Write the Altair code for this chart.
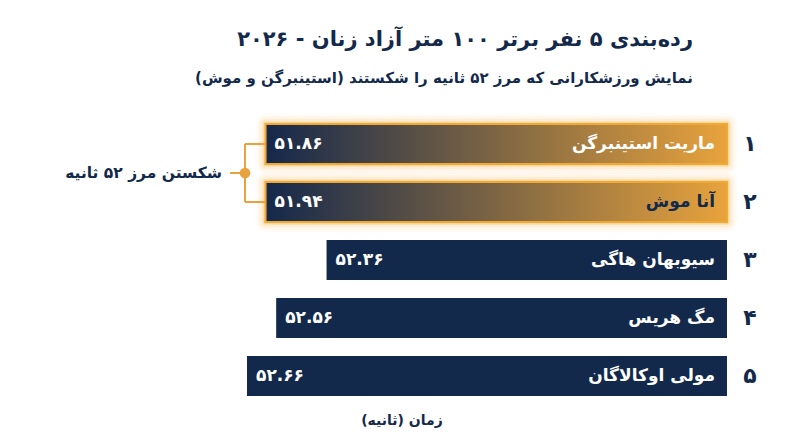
import altair as alt
import pandas as pd

# ---- data ----
ranks = [1, 2, 3, 4, 5]
names = ["ماریت استینبرگن", "آنا موش", "سیوبهان هاگی", "مگ هریس", "مولی اوکالاگان"]
times = [51.86, 51.94, 52.36, 52.56, 52.66]
# visual bar extents as drawn in the reference (arbitrary units)
bar_extent = [1.74, 1.74, 1.51, 1.70, 1.81]
highlight = [True, True, False, False, False]

title_text = "رده‌بندی ۵ نفر برتر ۱۰۰ متر آزاد زنان - ۲۰۲۶"
subtitle_text = "نمایش ورزشکارانی که مرز ۵۲ ثانیه را شکستند (استینبرگن و موش)"
annotation_text = "شکستن مرز ۵۲ ثانیه"
x_title_text = "زمان (ثانیه)"

FA = str.maketrans("0123456789", "۰۱۲۳۴۵۶۷۸۹")
RLM = "\u200f"


def rtl(s):
    return RLM + s + RLM


df = pd.DataFrame({
    "rank": ranks,
    "rank_fa": [str(r).translate(FA) for r in ranks],
    "name": [rtl(n) for n in names],
    "time_fa": [f"{t:.2f}".translate(FA) for t in times],
    "extent": bar_extent,
    "highlight": highlight,
})

NAVY = "#13294b"
GOLD = "#e8a33c"
GLOW = "#f7b548"
FONT = "DejaVu Sans"

W, H = 784, 431
xs = alt.Scale(domain=[0, max(bar_extent)], range=[719, 239])
ys = alt.Scale(range=[116, 388], paddingInner=0.31, paddingOuter=0)

base = alt.Chart(df).encode(
    y=alt.Y("rank:O", scale=ys, axis=None),
)

bar_enc = dict(
    x=alt.X("extent:Q", scale=xs, axis=None),
    x2=alt.datum(0),
)

hl = base.transform_filter("datum.highlight")
plain = base.transform_filter("!datum.highlight")

glow_layers = [
    hl.mark_bar(fillOpacity=0, stroke=GLOW, strokeWidth=w, strokeOpacity=o, strokeJoin="round").encode(**bar_enc)
    for w, o in [(20, 0.05), (15, 0.08), (10, 0.12), (6, 0.2), (3.5, 0.3)]
]

gradient = alt.Gradient(
    gradient="linear",
    stops=[alt.GradientStop(color="#14284b", offset=0),
           alt.GradientStop(color=GOLD, offset=1)],
    x1=0, x2=1, y1=0, y2=0,
)

hl_bars = hl.mark_bar(fill=gradient, stroke="#f0a935", strokeWidth=2).encode(**bar_enc)
plain_bars = plain.mark_bar(color=NAVY).encode(**bar_enc)

value_labels = base.mark_text(
    font=FONT, fontWeight="bold", fontSize=17, align="left", baseline="middle", dx=9, color="white"
).encode(x=alt.X("extent:Q", scale=xs, axis=None), text="time_fa:N")

name_labels = base.mark_text(
    font=FONT, fontWeight="bold", fontSize=17, align="right", baseline="middle"
).encode(
    x=alt.value(707),
    text="name:N",
    color=alt.condition("datum.rank == 2", alt.value(NAVY), alt.value("white")),
)

rank_labels = base.mark_text(
    font=FONT, fontWeight="bold", fontSize=22, align="center", baseline="middle", color=NAVY
).encode(x=alt.value(742), text="rank_fa:N")

# bracket annotation for the sub-52 swimmers
bracket_ticks = hl.mark_rule(color=GOLD, strokeWidth=2).encode(
    x=alt.X("extent:Q", scale=xs, axis=None), x2=alt.value(237)
)
one = pd.DataFrame({"a": [0]})
bracket_vert = alt.Chart(one).mark_rule(color=GOLD, strokeWidth=2).encode(
    x=alt.value(237), y=alt.value(136), y2=alt.value(194)
)
bracket_stem = alt.Chart(one).mark_rule(color=GOLD, strokeWidth=2).encode(
    x=alt.value(222), x2=alt.value(237), y=alt.value(165)
)
bracket_dot = alt.Chart(one).mark_point(
    filled=True, color=GOLD, size=115, opacity=1
).encode(x=alt.value(237), y=alt.value(165))


def static_text(txt, x, y, size, align="right", baseline="alphabetic"):
    return alt.Chart(pd.DataFrame({"t": [rtl(txt)]})).mark_text(
        font=FONT, fontWeight="bold", fontSize=size, align=align, baseline=baseline, color=NAVY
    ).encode(text="t:N", x=alt.value(x), y=alt.value(y))


annotation = static_text(annotation_text, 214, 165, 15.5, baseline="middle")
title = static_text(title_text, 685, 38, 21)
subtitle = static_text(subtitle_text, 685, 75, 15)
x_title = static_text(x_title_text, 394, 413, 14, align="center", baseline="middle")

chart = alt.layer(
    *glow_layers, hl_bars, plain_bars, value_labels, name_labels, rank_labels,
    bracket_ticks, bracket_vert, bracket_stem, bracket_dot,
    annotation, title, subtitle, x_title,
).properties(
    width=W, height=H, padding=0,
    autosize=alt.AutoSizeParams(type="none"),
    background="white",
).configure_view(stroke=None)

chart.save("out.html", embed_options={"renderer": "svg", "actions": False})
